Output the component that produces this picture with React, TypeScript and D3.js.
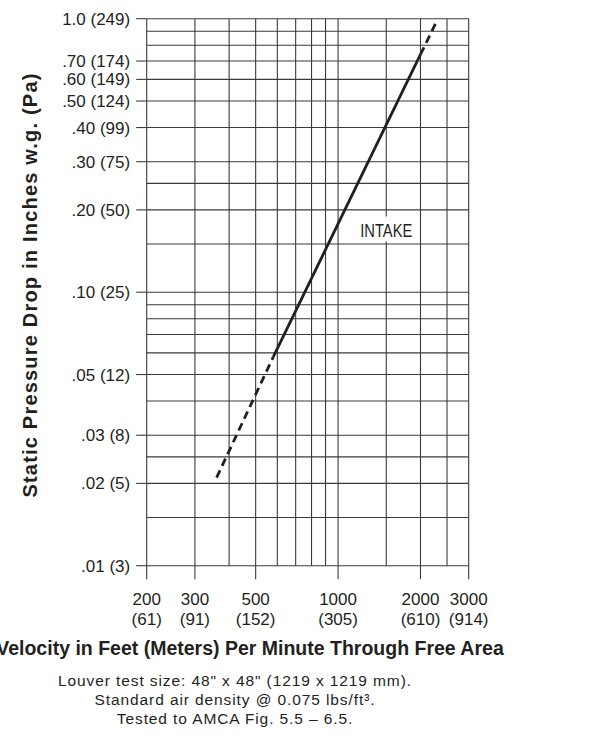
import * as d3 from "d3";
import {useRef, useEffect} from "react";

// velocity (fpm) grid lines and labelled ticks
const xGrid = [200, 300, 400, 500, 600, 700, 800, 900, 1000, 1500, 2000, 2500, 3000];
const xTicks = [200, 300, 500, 1000, 2000, 3000];
const xTickLabels = ["200", "300", "500", "1000", "2000", "3000"];
const xTickMetric = ["(61)", "(91)", "(152)", "(305)", "(610)", "(914)"];

// static pressure (in. w.g.) grid lines and labelled ticks
const yGrid = [1.0, 0.9, 0.8, 0.7, 0.6, 0.5, 0.4, 0.3, 0.25, 0.2, 0.15, 0.1, 0.09, 0.08, 0.07, 0.06, 0.05, 0.04, 0.03, 0.025, 0.02, 0.015, 0.01];
const yTicks = [1.0, 0.7, 0.6, 0.5, 0.4, 0.3, 0.2, 0.1, 0.05, 0.03, 0.02, 0.01];
const yTickLabels = ["1.0 (249)", ".70 (174)", ".60 (149)", ".50 (124)", ".40 (99)", ".30 (75)", ".20 (50)", ".10 (25)", ".05 (12)", ".03 (8)", ".02 (5)", ".01 (3)"];

// intake curve: dashed - solid - dashed
const curveVelocity = [360, 580, 2000, 2270];
const curvePressure = [0.021, 0.058, 0.74, 0.96];

const notes = [
    "Louver test size: 48\" x 48\" (1219 x 1219 mm).",
    "Standard air density @ 0.075 lbs/ft\u00B3.",
    "Tested to AMCA Fig. 5.5 \u2013 6.5.",
];

const ink = "#231f20";
const font = "'Liberation Sans', Arial, Helvetica, sans-serif";

export default function App() {
    const svgRef = useRef(null);
    const W = 611, H = 736;
    const left = 146.7, right = 468.7, top = 18.7, bottom = 565.7;

    useEffect(() => {
        const svg = d3.select(svgRef.current);
        svg.selectAll("*").remove();

        const x = d3.scaleLog().domain([200, 3000]).range([left, right]);
        const y = d3.scaleLog().domain([0.01, 1]).range([bottom, top]);

        const g = svg.append("g");

        // grid
        g.selectAll(".vg").data(xGrid).join("line")
            .attr("x1", d => x(d)).attr("x2", d => x(d))
            .attr("y1", top).attr("y2", bottom)
            .attr("stroke", "#3a3a3a").attr("stroke-width", 1.1);
        g.selectAll(".hg").data(yGrid).join("line")
            .attr("x1", left).attr("x2", right)
            .attr("y1", d => y(d)).attr("y2", d => y(d))
            .attr("stroke", "#3a3a3a").attr("stroke-width", 1.1);

        // tick marks
        g.selectAll(".yt").data(yTicks).join("line")
            .attr("x1", left - 10.5).attr("x2", left)
            .attr("y1", d => y(d)).attr("y2", d => y(d))
            .attr("stroke", "#3a3a3a").attr("stroke-width", 1.1);
        g.selectAll(".xt").data(xTicks).join("line")
            .attr("x1", d => x(d)).attr("x2", d => x(d))
            .attr("y1", bottom).attr("y2", bottom + 13.5)
            .attr("stroke", "#3a3a3a").attr("stroke-width", 1.1);

        // tick labels
        g.selectAll(".yl").data(yTicks).join("text")
            .attr("x", left - 16.5).attr("y", d => y(d)).attr("dy", "0.36em")
            .attr("text-anchor", "end")
            .attr("font-family", font).attr("font-size", 17).attr("fill", ink)
            .text((d, i) => yTickLabels[i]);
        g.selectAll(".xl").data(xTicks).join("text")
            .attr("x", d => x(d)).attr("y", 604.5)
            .attr("text-anchor", "middle")
            .attr("font-family", font).attr("font-size", 17).attr("fill", ink)
            .text((d, i) => xTickLabels[i]);
        g.selectAll(".xm").data(xTicks).join("text")
            .attr("x", d => x(d)).attr("y", 624.5)
            .attr("text-anchor", "middle")
            .attr("font-family", font).attr("font-size", 17).attr("fill", ink)
            .text((d, i) => xTickMetric[i]);

        // curve
        const pts: [number, number][] = curveVelocity.map((v, i) => [x(v), y(curvePressure[i])]);
        const line = d3.line();
        [[0, 1, true], [1, 2, false], [2, 3, true]].forEach(([a, b, dashed]) => {
            g.append("path")
                .attr("d", line([pts[a as number], pts[b as number]]))
                .attr("fill", "none")
                .attr("stroke", ink)
                .attr("stroke-width", 2.8)
                .attr("stroke-dasharray", dashed ? "8,5" : null);
        });

        // label
        const lx = x(1500);
        g.append("rect")
            .attr("x", lx - 28).attr("y", 216.5).attr("width", 56).attr("height", 25)
            .attr("fill", "#fff");
        g.append("text")
            .attr("x", lx).attr("y", 236.5)
            .attr("text-anchor", "middle")
            .attr("font-family", font).attr("font-size", 18).attr("fill", ink)
            .attr("textLength", 52).attr("lengthAdjust", "spacingAndGlyphs")
            .text("INTAKE");

        // axis titles
        g.append("text")
            .attr("transform", "translate(37,285) rotate(-90)")
            .attr("text-anchor", "middle")
            .attr("font-family", font).attr("font-weight", "bold").attr("font-size", 20).attr("fill", ink)
            .attr("letter-spacing", 1.2)
            .text("Static Pressure Drop in Inches w.g. (Pa)");
        g.append("text")
            .attr("x", 250).attr("y", 655)
            .attr("text-anchor", "middle")
            .attr("font-family", font).attr("font-weight", "bold").attr("font-size", 19.5).attr("fill", ink)
            .text("Velocity in Feet (Meters) Per Minute Through Free Area");

        g.selectAll(".note").data(notes).join("text")
            .attr("x", 235).attr("y", (d, i) => 686 + i * 19)
            .attr("text-anchor", "middle")
            .attr("font-family", font).attr("font-size", 15.5).attr("letter-spacing", 0.9).attr("fill", ink)
            .text(d => d);
    }, []);

    return (
        <svg ref={svgRef} width={W} height={H}
             style={{position: "absolute", left: 0, top: 0, background: "#fff"}} />
    );
}
